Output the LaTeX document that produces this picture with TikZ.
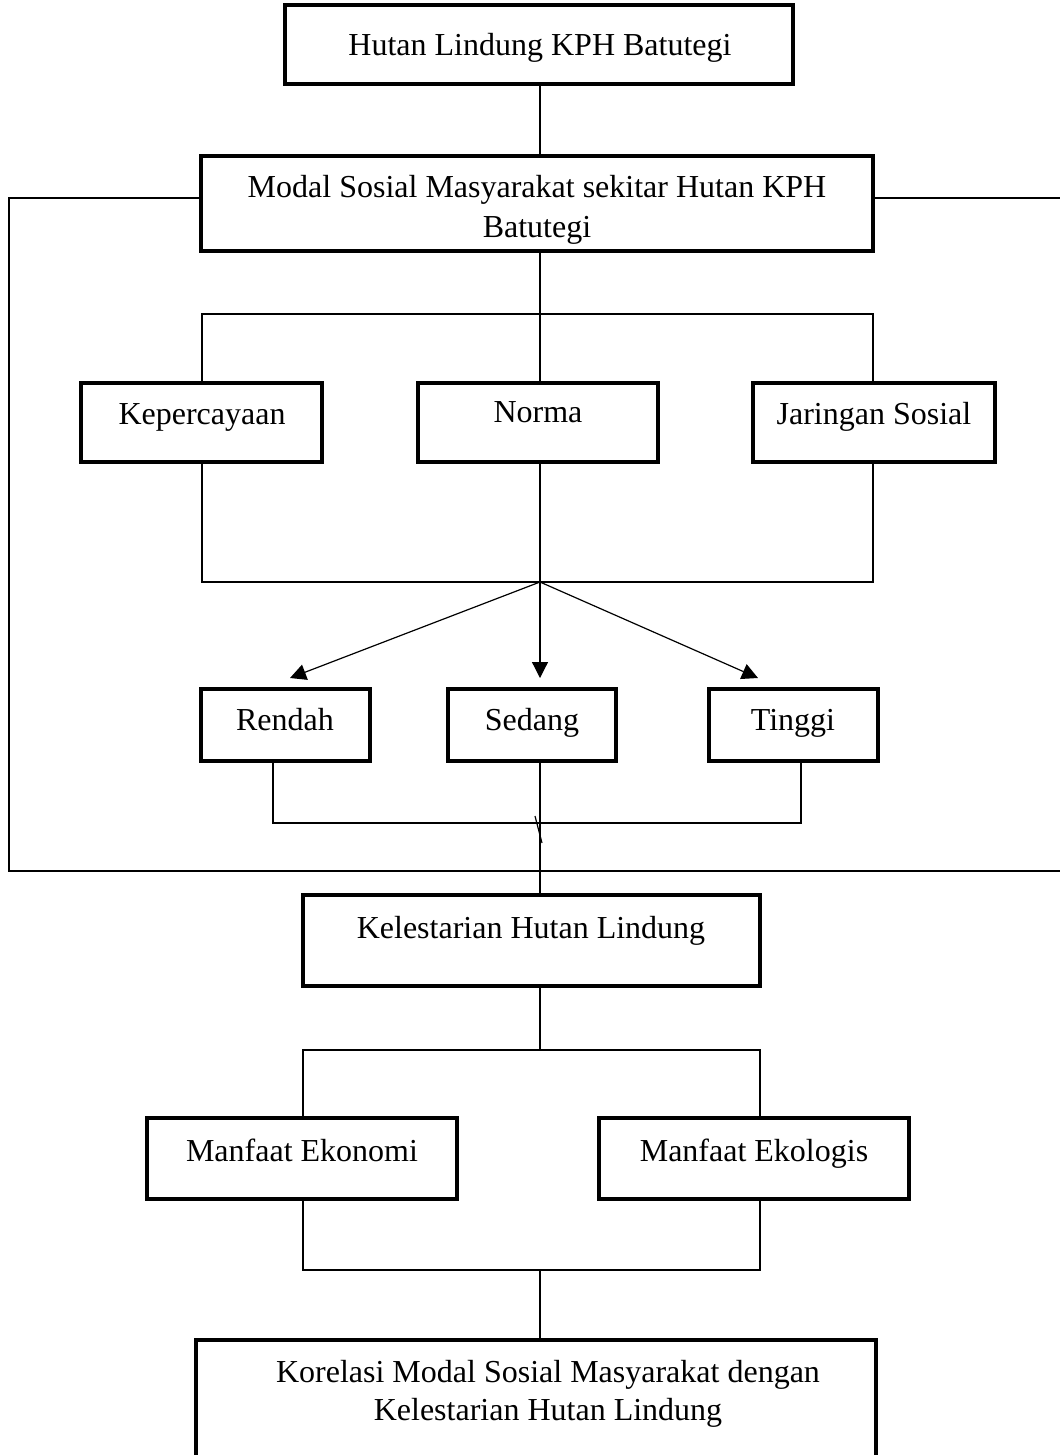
\documentclass[tikz,border=0pt]{standalone}
\usepackage{fontspec}
\setmainfont{Liberation Serif}
\usetikzlibrary{arrows.meta}
\begin{document}
\begin{tikzpicture}[x=0.375pt,y=-0.375pt,
  box/.style={draw,line width=1.2pt,inner sep=0pt,outer sep=0pt,rectangle},
  txt/.style={inner sep=0pt,anchor=base,font=\fontsize{12}{14.5}\selectfont},
  conn/.style={line width=0.45pt},
  arr/.style={line width=0.45pt,-{Triangle[length=6pt,width=6pt]}}]
\useasboundingbox (0,0) rectangle (1060,1455);
% boxes
\node[box,minimum width=190.5pt,minimum height=29.6pt] (top) at (539,44.5) {};
\node[box,minimum width=252pt,minimum height=35.6pt] (modal) at (537,203.5) {};
\node[box,minimum width=90.4pt,minimum height=29.6pt] (kep) at (201.5,422.5) {};
\node[box,minimum width=90pt,minimum height=29.6pt] (norma) at (538,422.5) {};
\node[box,minimum width=90.75pt,minimum height=29.6pt] (jar) at (874,422.5) {};
\node[box,minimum width=63.4pt,minimum height=27pt] (rendah) at (285.5,725) {};
\node[box,minimum width=63pt,minimum height=27pt] (sedang) at (532,725) {};
\node[box,minimum width=63.4pt,minimum height=27pt] (tinggi) at (793.5,725) {};
\node[box,minimum width=171.4pt,minimum height=34.1pt] (kel) at (531.5,940.5) {};
\node[box,minimum width=116.25pt,minimum height=30.4pt] (eko) at (302,1158.5) {};
\node[box,minimum width=116.25pt,minimum height=30.4pt] (ekol) at (754,1158.5) {};
\node[box,minimum width=255pt,minimum height=52.5pt] (kor) at (536,1410) {};
% texts
\node[txt] (t-top) at (540,55) {Hutan Lindung KPH Batutegi};
\node[txt] (t-modal1) at (537,197) {Modal Sosial Masyarakat sekitar Hutan KPH};
\node[txt] (t-modal2) at (537,237) {Batutegi};
\node[txt] (t-kep) at (202,424) {Kepercayaan};
\node[txt] (t-norma) at (538,422) {Norma};
\node[txt] (t-jar) at (874,424) {Jaringan Sosial};
\node[txt] (t-rendah) at (285,730) {Rendah};
\node[txt] (t-sedang) at (532,730) {Sedang};
\node[txt] (t-tinggi) at (793,730) {Tinggi};
\node[txt] (t-kel) at (531,938) {Kelestarian Hutan Lindung};
\node[txt] (t-eko) at (302,1161) {Manfaat Ekonomi};
\node[txt] (t-ekol) at (754,1161) {Manfaat Ekologis};
\node[txt] (t-kor1) at (548,1382) {Korelasi Modal Sosial Masyarakat dengan};
\node[txt] (t-kor2) at (548,1420) {Kelestarian Hutan Lindung};
% junction coordinates
\coordinate (lc1) at (9,198);
\coordinate (lc2) at (9,871);
\coordinate (rc1) at (1060,198);
\coordinate (rc2) at (1060,871);
\coordinate (j1) at (540,314);
\coordinate (j1L) at (202,314);
\coordinate (j1R) at (873,314);
\coordinate (j2) at (540,582);
\coordinate (j2L) at (202,582);
\coordinate (j2R) at (873,582);
\coordinate (a1) at (290,678);
\coordinate (a2) at (540,678);
\coordinate (a3) at (758,678);
\coordinate (j3) at (540,823);
\coordinate (j3L) at (273,823);
\coordinate (j3R) at (801,823);
\coordinate (s1) at (535,816);
\coordinate (s2) at (542,843);
\coordinate (j4) at (540,1050);
\coordinate (j4L) at (303,1050);
\coordinate (j4R) at (760,1050);
\coordinate (j5) at (540,1270);
\coordinate (j5L) at (303,1270);
\coordinate (j5R) at (760,1270);
% connectors
\draw[conn] (top.south -| j1) -- (modal.north -| j1);
\draw[conn] (modal.west |- lc1) -- (lc1) -- (lc2) -- (rc2);
\draw[conn] (modal.east |- rc1) -- (rc1);
\draw[conn] (modal.south -| j1) -- (norma.north -| j1);
\draw[conn] (kep.north -| j1L) -- (j1L) -- (j1R) -- (jar.north -| j1R);
\draw[conn] (kep.south -| j2L) -- (j2L) -- (j2R) -- (jar.south -| j2R);
\draw[conn] (norma.south -| j2) -- (j2);
\draw[arr] (j2) -- (a1);
\draw[arr] (j2) -- (a2);
\draw[arr] (j2) -- (a3);
\draw[conn] (rendah.south -| j3L) -- (j3L) -- (j3R) -- (tinggi.south -| j3R);
\draw[conn] (sedang.south -| j3) -- (kel.north -| j3);
\draw[conn] (s1) -- (s2);
\draw[conn] (kel.south -| j4) -- (j4);
\draw[conn] (eko.north -| j4L) -- (j4L) -- (j4R) -- (ekol.north -| j4R);
\draw[conn] (eko.south -| j5L) -- (j5L) -- (j5R) -- (ekol.south -| j5R);
\draw[conn] (j5) -- (kor.north -| j5);
\end{tikzpicture}
\end{document}
